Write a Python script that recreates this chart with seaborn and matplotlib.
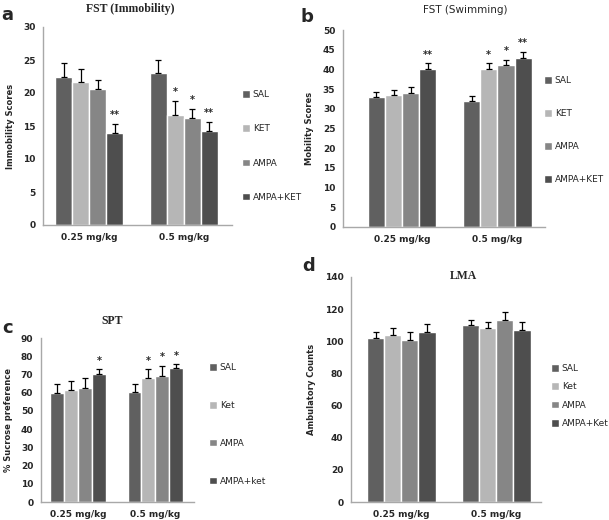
import numpy as np
import pandas as pd
import matplotlib
matplotlib.use("Agg")
import matplotlib.pyplot as plt
import seaborn as sns

# === Data
doses = ["0.25 mg/kg", "0.5 mg/kg"]

fst_imm_groups = ["SAL", "KET", "AMPA", "AMPA+KET"]
fst_imm_mean = [[22.5, 21.6, 20.6, 14.0], [23.0, 16.6, 16.2, 14.3]]
fst_imm_err = [[2.0, 2.1, 1.4, 1.3], [2.0, 2.2, 1.4, 1.3]]
fst_imm_stars = [["", "", "", "**"], ["", "*", "*", "**"]]

fst_swim_groups = ["SAL", "KET", "AMPA", "AMPA+KET"]
fst_swim_mean = [[33.0, 33.5, 34.0, 40.0], [32.0, 40.0, 41.0, 43.0]]
fst_swim_err = [[1.2, 1.3, 1.5, 1.5], [1.2, 1.5, 1.5, 1.5]]
fst_swim_stars = [["", "", "", "**"], ["", "*", "*", "**"]]

spt_groups = ["SAL", "Ket", "AMPA", "AMPA+ket"]
spt_mean = [[60.0, 61.5, 62.5, 70.5], [60.3, 68.0, 69.0, 73.3]]
spt_err = [[4.5, 5.0, 5.8, 2.3], [4.3, 5.0, 5.8, 2.3]]
spt_stars = [["", "", "", "*"], ["", "*", "*", "*"]]

lma_groups = ["SAL", "Ket", "AMPA", "AMPA+Ket"]
lma_mean = [[102, 104, 101, 106], [110, 108, 113, 107]]
lma_err = [[3.5, 4.2, 5.0, 4.8], [3.3, 4.3, 5.0, 4.8]]

COLORS = ["#606060", "#b6b6b6", "#868686", "#4e4e4e"]
SPINE = "#a8a8a8"

sns.set_theme(style="white")
plt.rcParams["font.family"] = ["DejaVu Sans"]

W, H = 609, 520
fig = plt.figure(figsize=(W / 100, H / 100), dpi=100)


def px_axes(left, right, top, bottom):
    return fig.add_axes([left / W, 1 - bottom / H, (right - left) / W, (bottom - top) / H])


def fx(x):
    return x / W


def fy(y):
    return 1 - y / H


def panel(ax, groups, means, errs, stars, ymax, ystep, xlim, ylabel,
          title, title_xy, title_serif, letter, letter_xy, leg_xy, leg_spacing):
    rows = []
    for di, d in enumerate(doses):
        for gi, g in enumerate(groups):
            rows.append({"dose": d, "group": g, "value": means[di][gi]})
    df = pd.DataFrame(rows)
    sns.barplot(data=df, x="dose", y="value", hue="group", hue_order=groups,
                palette=COLORS, errorbar=None, width=0.72, saturation=1,
                ax=ax, legend=True)
    # error bars (upper only) + stars
    bar_conts = list(ax.containers)
    for gi, cont in enumerate(bar_conts):
        for di, bar in enumerate(cont.patches):
            x = bar.get_x() + bar.get_width() / 2
            h = bar.get_height()
            e = errs[di][gi]
            ax.errorbar(x, h, yerr=[[0], [e]], fmt="none", ecolor="black",
                        elinewidth=0.9, capsize=2.5, capthick=0.9)
            if stars is not None and stars[di][gi]:
                ax.text(x, h + e + ymax * 0.02, stars[di][gi], ha="center",
                        va="bottom", fontsize=7, fontweight="bold")
    ax.set_ylim(0, ymax)
    ax.set_yticks(np.arange(0, ymax + 0.01, ystep))
    ax.set_xlim(*xlim)
    ax.set_xlabel("")
    ax.set_ylabel(ylabel, fontsize=6, fontweight="bold", labelpad=6)
    ax.tick_params(axis="both", labelsize=6.5, length=2.5, color=SPINE, pad=3)
    ax.tick_params(axis="x", length=0, pad=6)
    for lbl in ax.get_xticklabels() + ax.get_yticklabels():
        lbl.set_fontweight("semibold")
    for s in ["top", "right"]:
        ax.spines[s].set_visible(False)
    for s in ["left", "bottom"]:
        ax.spines[s].set_color(SPINE)
        ax.spines[s].set_linewidth(1.0)
    if title_serif:
        fig.text(fx(title_xy[0]), fy(title_xy[1]), title, fontsize=8.5, fontweight="bold",
                 family="Liberation Serif", ha="center", va="center")
    else:
        fig.text(fx(title_xy[0]), fy(title_xy[1]), title, fontsize=7.5,
                 ha="center", va="center")
    handles, labels = ax.get_legend_handles_labels()
    ax.legend(handles, labels, loc="upper left",
              bbox_to_anchor=(fx(leg_xy[0]), fy(leg_xy[1])), bbox_transform=fig.transFigure,
              frameon=False, fontsize=6.5, handlelength=0.9, handleheight=0.9,
              handletextpad=0.3, labelspacing=leg_spacing, borderaxespad=0, borderpad=0)
    fig.text(fx(letter_xy[0]), fy(letter_xy[1]), letter, fontsize=13,
             fontweight="bold", va="center", ha="left")


ax_a = px_axes(43, 232, 27, 225)
panel(ax_a, fst_imm_groups, fst_imm_mean, fst_imm_err, fst_imm_stars, 30, 5, (-0.49, 1.51),
      "Immobility Scores", "FST (Immobility)", (130, 9), True, "a", (1, 15), (242, 90), 2.8)

ax_b = px_axes(343, 545, 30, 227)
panel(ax_b, fst_swim_groups, fst_swim_mean, fst_swim_err, fst_swim_stars, 50, 5, (-0.62, 1.5),
      "Mobility Scores", "FST (Swimming)", (465, 10), False, "b", (301, 17), (544, 76), 2.67)

ax_c = px_axes(41, 194, 338, 502)
panel(ax_c, spt_groups, spt_mean, spt_err, spt_stars, 90, 10, (-0.48, 1.5),
      "% Sucrose preference", "SPT", (112, 321), True, "c", (2, 328), (209, 363), 3.2)

ax_d = px_axes(351, 541, 277, 502)
panel(ax_d, lma_groups, lma_mean, lma_err, None, 140, 20, (-0.53, 1.47),
      "Ambulatory Counts", "LMA", (463, 276), True, "d", (302, 266), (551, 364), 1.03)

fig.savefig("out.png", dpi=100)
